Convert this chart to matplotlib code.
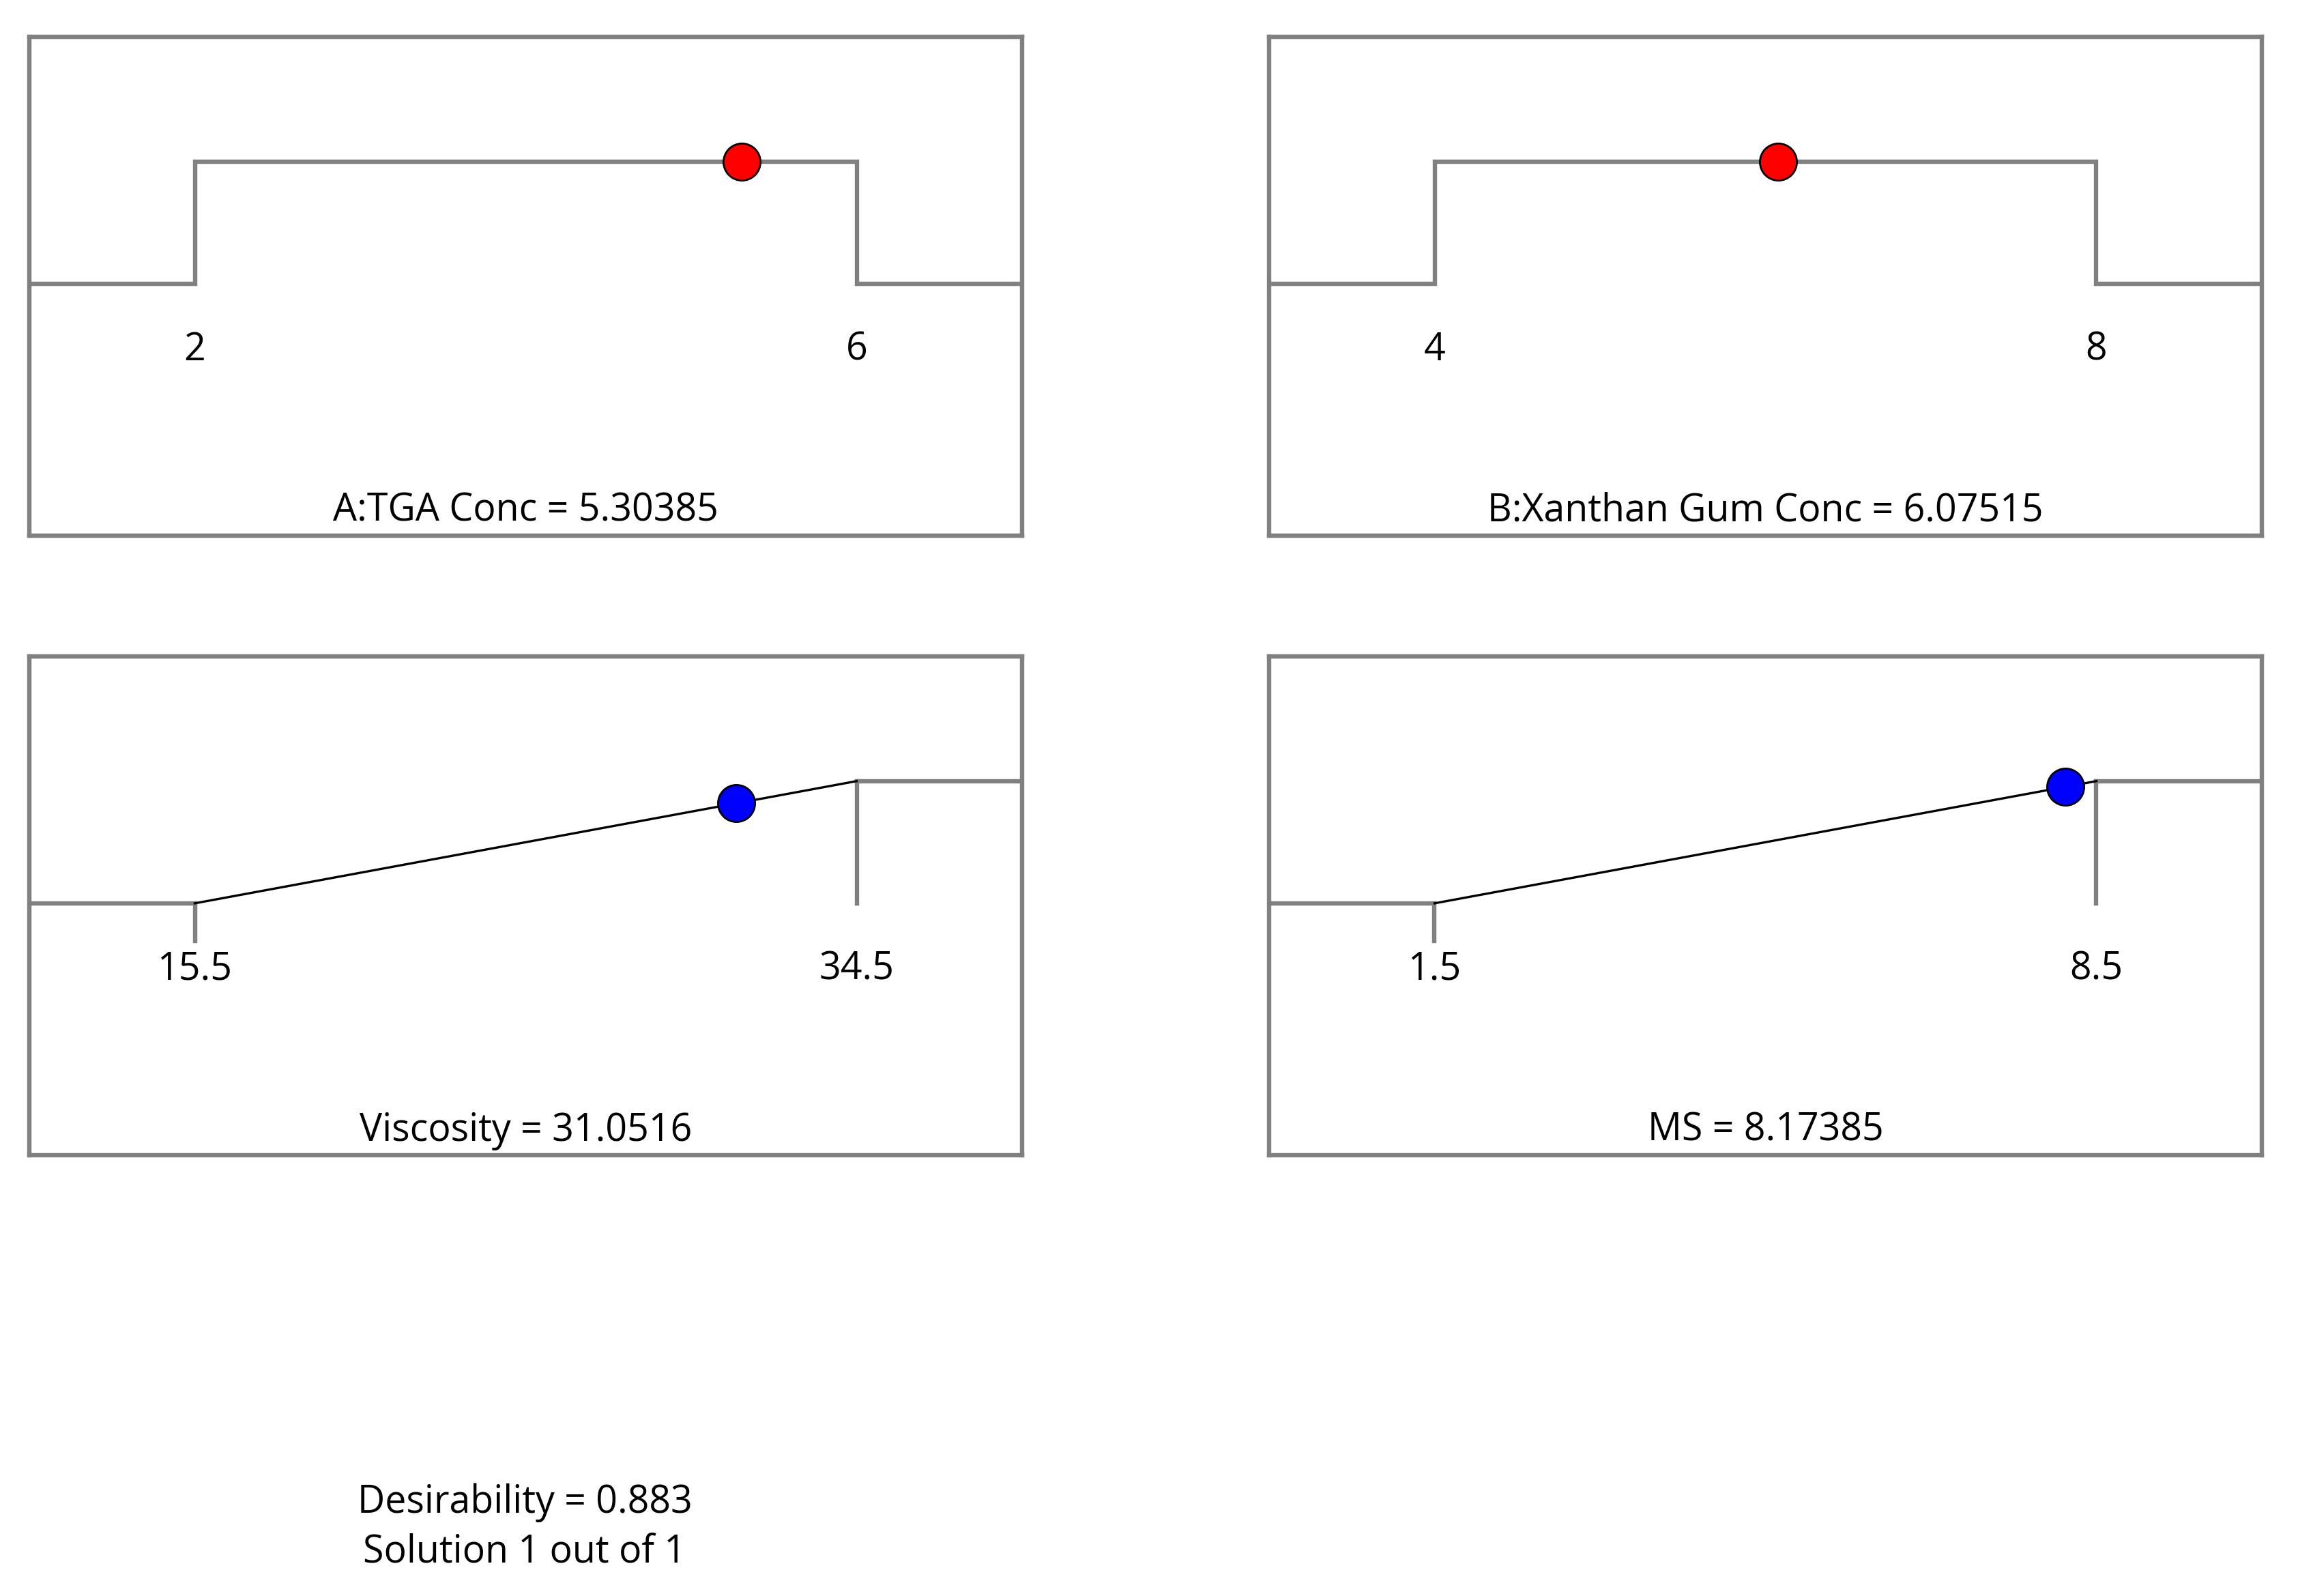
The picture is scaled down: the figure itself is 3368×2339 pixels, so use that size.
import matplotlib
matplotlib.use('Agg')
import matplotlib.pyplot as plt
import numpy as np

plt.rcParams['font.family'] = ['Open Sans', 'DejaVu Sans']

# Данные: факторы и отклики
names = ['A:TGA Conc', 'B:Xanthan Gum Conc', 'Viscosity', 'MS']
kinds = ['factor', 'factor', 'response', 'response']
lows = [2, 4, 15.5, 1.5]
highs = [6, 8, 34.5, 8.5]
low_labels = ['2', '4', '15.5', '1.5']
high_labels = ['6', '8', '34.5', '8.5']
values = [5.30385, 6.07515, 31.0516, 8.17385]
value_labels = ['5.30385', '6.07515', '31.0516', '8.17385']
desirability = '0.883'
solution_text = 'Solution 1 out of 1'

gray = '#808080'
y_lo, y_hi = 0.505, 0.75

fig = plt.figure(figsize=(16.84, 11.695), dpi=200)

# положения панелей (пиксели исходной картинки)
W, H = 3368, 2339
boxes = [(43, 54, 1498, 785), (1860, 54, 3315, 785),
         (43, 962, 1498, 1693), (1860, 962, 3315, 1693)]

for i, (x0, y0, x1, y1) in enumerate(boxes):
    ax = fig.add_axes([x0 / W, 1 - y1 / H, (x1 - x0) / W, (y1 - y0) / H])
    lo, hi = lows[i], highs[i]
    r = hi - lo
    xmin, xmax = lo - 0.25 * r, hi + 0.25 * r
    ax.set_xlim(xmin, xmax)
    ax.set_ylim(0, 1)
    ax.set_xticks([])
    ax.set_yticks([])
    for s in ax.spines.values():
        s.set_color(gray)
        s.set_linewidth(2.3)

    if kinds[i] == 'factor':
        ax.plot([xmin, lo, lo, hi, hi, xmax],
                [y_lo, y_lo, y_hi, y_hi, y_lo, y_lo],
                color=gray, lw=2.3, solid_joinstyle='miter', zorder=2)
        ax.plot(values[i], y_hi, 'o', ms=19.5, mfc='red', mec='black',
                mew=1.0, zorder=4)
    else:
        ax.plot([xmin, lo], [y_lo, y_lo], color=gray, lw=2.3, zorder=2)
        ax.plot([hi, xmax], [y_hi, y_hi], color=gray, lw=2.3, zorder=2)
        ax.plot([hi, hi], [y_hi, y_lo], color=gray, lw=2.3, zorder=2)
        ax.plot([lo, lo], [y_lo, 0.43], color=gray, lw=2.3, zorder=2)
        ax.plot([lo, hi], [y_lo, y_hi], color='black', lw=1.2, zorder=3)
        yv = np.interp(values[i], [lo, hi], [y_lo, y_hi])
        ax.plot(values[i], yv, 'o', ms=19.5, mfc='blue', mec='black',
                mew=1.0, zorder=4)

    ax.text(lo, 0.372, low_labels[i], ha='center', va='center', fontsize=20)
    ax.text(hi, 0.372, high_labels[i], ha='center', va='center', fontsize=20)
    ax.text(0.5, 0.049, names[i] + ' = ' + value_labels[i], transform=ax.transAxes,
            ha='center', va='center', fontsize=20)

fig.text(769 / W, 1 - 2202 / H, 'Desirability = ' + desirability,
         ha='center', va='center', fontsize=20)
fig.text(769 / W, 1 - 2276 / H, solution_text,
         ha='center', va='center', fontsize=20)

fig.savefig('out.png', dpi=200, facecolor='white')
